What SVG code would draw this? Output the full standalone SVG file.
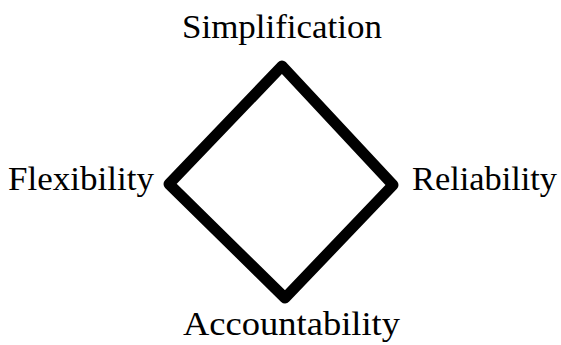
<svg xmlns="http://www.w3.org/2000/svg" width="561" height="345" viewBox="0 0 561 345">
<style>
.lbl{font-family:"Liberation Serif","Times New Roman",serif;font-size:33px;fill:#000}
.edge{fill:none;stroke:#000;stroke-width:11;stroke-linejoin:round;stroke-linecap:round}
</style>
<rect width="561" height="345" fill="#fff"/>
<g id="connectors">
<path class="edge" d="M282,66 L393,185 L285,298 L169,184 Z"/>
</g>
<g id="simplification"><text class="lbl" x="182" y="38" textLength="200" lengthAdjust="spacingAndGlyphs">Simplification</text></g>
<g id="flexibility"><text class="lbl" x="8" y="190" textLength="146" lengthAdjust="spacingAndGlyphs">Flexibility</text></g>
<g id="reliability"><text class="lbl" x="412" y="190" textLength="145" lengthAdjust="spacingAndGlyphs">Reliability</text></g>
<g id="accountability"><text class="lbl" x="183" y="335" textLength="217" lengthAdjust="spacingAndGlyphs">Accountability</text></g>
</svg>
